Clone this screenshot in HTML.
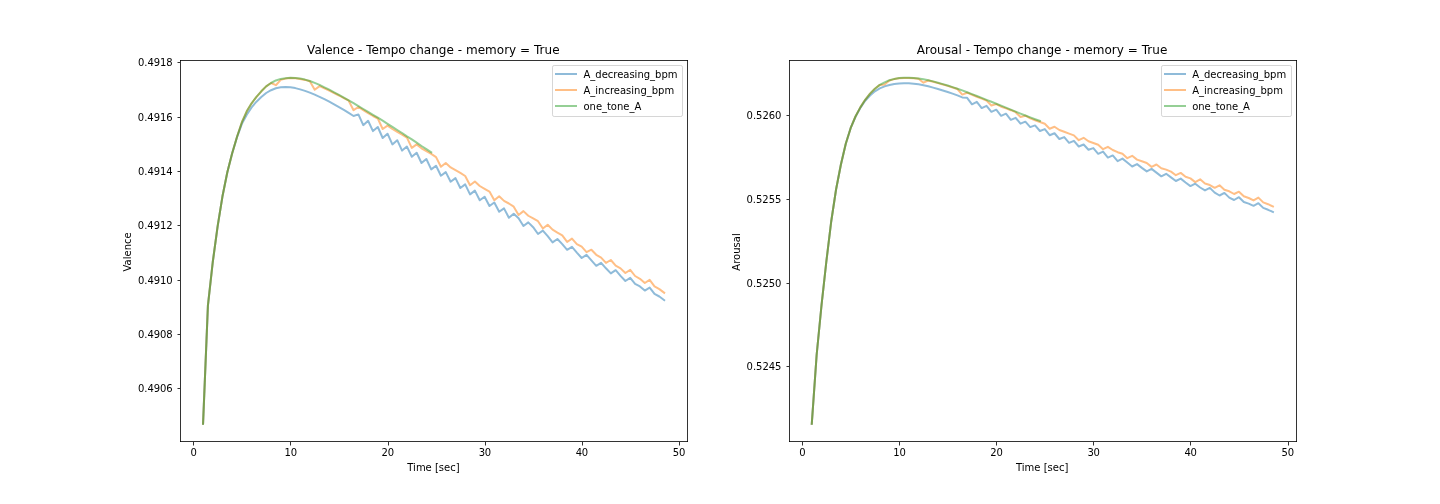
<!DOCTYPE html>
<html lang="en">
<head>
<meta charset="utf-8">
<title>Valence / Arousal - Tempo change - memory = True</title>
<style>
html,body{margin:0;padding:0;background:#fff;}
body{width:1440px;height:504px;overflow:hidden;}
svg{display:block;will-change:transform;}
svg text{font-family:"DejaVu Sans","Liberation Sans",sans-serif;fill:#000;}
.curve{fill:none;stroke-width:2;stroke-opacity:0.5;stroke-linejoin:round;stroke-linecap:square;}
.ax{fill:#000;fill-opacity:0.8;shape-rendering:crispEdges;}
</style>
</head>
<body>
<svg width="1440" height="504" viewBox="0 0 1440 504">
<rect width="1440" height="504" fill="#ffffff"/>
<g id="axes1">
<clipPath id="clip0"><rect x="180" y="60.48" width="507.27" height="380.52"/></clipPath>
<g clip-path="url(#clip0)">
<polyline class="curve" stroke="#1f77b4" points="203.06,423.7 207.91,305.7 212.77,262 217.62,226.3 222.47,196.3 227.33,172.3 232.18,153.2 237.04,137.1 241.89,123.9 246.75,114.7 251.6,107.4 256.45,101.7 261.31,97.1 266.16,93 271.02,90.2 275.87,88.25 280.73,87.35 285.58,87.1 290.43,87.35 295.29,88.1 300.14,89.35 305,90.85 309.85,92.6 314.71,94.7 319.56,96.8 324.41,99.2 329.27,101.7 334.12,104.4 338.98,107.1 343.83,109.9 348.69,112.9 353.54,116 358.39,114.4 363.25,125.2 368.1,120.8 372.96,131.1 377.81,127 382.67,138 387.52,133.7 392.37,144.4 397.23,140.2 402.08,150.6 406.94,146.6 411.79,156.8 416.65,152.7 421.5,163 426.35,159 431.21,169.4 436.06,165.8 440.92,175.7 445.77,172.1 450.63,181.7 455.48,178.1 460.33,188 465.19,184.4 470.04,194.4 474.9,190.6 479.75,200.3 484.61,196.7 489.46,206 494.31,202.5 499.17,211.8 504.02,208.4 508.88,217.8 513.73,213.8 518.59,218.2 523.44,226 528.29,222.4 533.15,227.2 538,234 542.86,230.6 547.71,236.2 552.57,242.4 557.42,239 562.27,244.1 567.13,249.8 571.98,246.9 576.84,252.6 581.69,258 586.55,254.8 591.4,260.4 596.25,265.8 601.11,262.8 605.96,268.3 610.82,273.4 615.67,270.2 620.53,275.9 625.38,281 630.23,277.9 635.09,283.8 639.94,286.4 644.8,290.6 649.65,287.6 654.51,293.9 659.36,296.5 664.21,300.1"/>
<polyline class="curve" stroke="#ff7f0e" points="203.06,423.7 207.91,305.7 212.77,262 217.62,226.3 222.47,196.3 227.33,172.3 232.18,153.2 237.04,136.8 241.89,122.2 246.75,111.3 251.6,103.3 256.45,96.8 261.31,91.3 266.16,86.4 271.02,83 275.87,85.2 280.73,79.9 285.58,78.6 290.43,78.1 295.29,78.3 300.14,78.9 305,79.9 309.85,81.2 314.71,89.7 319.56,86.1 324.41,88.3 329.27,90.6 334.12,93.1 338.98,95.5 343.83,98.2 348.69,100.7 353.54,110.2 358.39,107 363.25,110.2 368.1,113.2 372.96,116 377.81,118.5 382.67,129 387.52,125.6 392.37,129 397.23,131.8 402.08,134.6 406.94,137.6 411.79,147.9 416.65,144.4 421.5,148.3 426.35,151.1 431.21,153.9 436.06,157.1 440.92,166.8 445.77,163 450.63,167.4 455.48,170.2 460.33,172.9 465.19,176 470.04,185.2 474.9,181.5 479.75,186 484.61,188.8 489.46,191.6 494.31,200.25 499.17,196.25 504.02,200.9 508.88,203.5 513.73,206.7 518.59,215 523.44,211.1 528.29,215.75 533.15,218.45 538,221.2 542.86,228.45 547.71,224.75 552.57,229.65 557.42,232.6 562.27,235.4 567.13,241.95 571.98,238.6 576.84,244.05 581.69,246.7 586.55,252.1 591.4,249.7 596.25,254.8 601.11,257.6 605.96,262.9 610.82,260 615.67,265.7 620.53,268.35 625.38,273 630.23,269.85 635.09,276 639.94,278.8 644.8,283 649.65,279.9 654.51,286.4 659.36,289.1 664.21,292.8"/>
<polyline class="curve" stroke="#2ca02c" points="203.06,423.7 207.91,305.7 212.77,262 217.62,226.3 222.47,196.3 227.33,172.3 232.18,153.2 237.04,136.8 241.89,122.2 246.75,111.3 251.6,103.3 256.45,96.8 261.31,91.3 266.16,86.4 271.02,83 275.87,80.45 280.73,78.9 285.58,78.2 290.43,77.8 295.29,78 300.14,78.6 305,79.6 309.85,81 314.71,82.9 319.56,84.9 324.41,87.3 329.27,89.7 334.12,92.3 338.98,94.8 343.83,97.6 348.69,100.3 353.54,103.1 358.39,106.1 363.25,109 368.1,111.9 372.96,114.8 377.81,117.7 382.67,120.7 387.52,123.8 392.37,126.9 397.23,130 402.08,133 406.94,136.3 411.79,139.4 416.65,142.7 421.5,146 426.35,149.1 431.21,152.3"/>
</g>
<rect class="ax" x="180" y="60" width="1" height="382"/>
<rect class="ax" x="687" y="60" width="1" height="382"/>
<rect class="ax" x="180" y="60" width="508" height="1"/>
<rect class="ax" x="180" y="441" width="508" height="1"/>
<rect class="ax" x="193" y="442" width="1" height="3.5" style="shape-rendering:auto"/>
<rect class="ax" x="290" y="442" width="1" height="3.5" style="shape-rendering:auto"/>
<rect class="ax" x="388" y="442" width="1" height="3.5" style="shape-rendering:auto"/>
<rect class="ax" x="485" y="442" width="1" height="3.5" style="shape-rendering:auto"/>
<rect class="ax" x="582" y="442" width="1" height="3.5" style="shape-rendering:auto"/>
<rect class="ax" x="679" y="442" width="1" height="3.5" style="shape-rendering:auto"/>
<rect class="ax" x="177.5" y="388" width="2.5" height="1" style="shape-rendering:auto"/>
<rect class="ax" x="177.5" y="334" width="2.5" height="1" style="shape-rendering:auto"/>
<rect class="ax" x="177.5" y="280" width="2.5" height="1" style="shape-rendering:auto"/>
<rect class="ax" x="177.5" y="225" width="2.5" height="1" style="shape-rendering:auto"/>
<rect class="ax" x="177.5" y="171" width="2.5" height="1" style="shape-rendering:auto"/>
<rect class="ax" x="177.5" y="117" width="2.5" height="1" style="shape-rendering:auto"/>
<rect class="ax" x="177.5" y="62" width="2.5" height="1" style="shape-rendering:auto"/>
<text font-size="12px" textLength="252.5" x="307.09" y="54.48">Valence - Tempo change - memory = True</text>
<text font-size="10px" textLength="52.25" x="407.31" y="471.09">Time [sec]</text>
<text font-size="10px" textLength="39.25" transform="translate(131.03,271.56) rotate(-90)">Valence</text>
<text font-size="10px" textLength="6.25" x="190.52" y="456">0</text>
<text font-size="10px" textLength="12.62" x="284.42" y="456">10</text>
<text font-size="10px" textLength="12.62" x="381.51" y="456">20</text>
<text font-size="10px" textLength="12.5" x="478.66" y="456">30</text>
<text font-size="10px" textLength="12.5" x="575.74" y="456">40</text>
<text font-size="10px" textLength="12.62" x="672.77" y="456">50</text>
<text font-size="10px" textLength="34.75" x="137.95" y="392.3">0.4906</text>
<text font-size="10px" textLength="34.62" x="138.07" y="337.97">0.4908</text>
<text font-size="10px" textLength="34.75" x="137.95" y="283.63">0.4910</text>
<text font-size="10px" textLength="34.88" x="137.82" y="229.3">0.4912</text>
<text font-size="10px" textLength="34.75" x="137.95" y="174.97">0.4914</text>
<text font-size="10px" textLength="34.88" x="137.82" y="120.63">0.4916</text>
<text font-size="10px" textLength="34.75" x="137.95" y="66.3">0.4918</text>
<rect x="552.5" y="65.5" width="130" height="51" rx="1.7" ry="1.7" fill="#ffffff" fill-opacity="0.8" stroke="#cccccc" stroke-opacity="0.8" stroke-width="1"/>
<line class="curve" stroke="#1f77b4" x1="556" y1="74" x2="576" y2="74"/>
<line class="curve" stroke="#ff7f0e" x1="556" y1="90" x2="576" y2="90"/>
<line class="curve" stroke="#2ca02c" x1="556" y1="106" x2="576" y2="106"/>
<text font-size="10px" textLength="94" x="583.47" y="78.48">A_decreasing_bpm</text>
<text font-size="10px" textLength="90.75" x="583.47" y="94.39">A_increasing_bpm</text>
<text font-size="10px" textLength="57.75" x="583.47" y="110.29">one_tone_A</text>
</g>
<g id="axes2">
<clipPath id="clip1"><rect x="788.73" y="60.48" width="507.27" height="380.52"/></clipPath>
<g clip-path="url(#clip1)">
<polyline class="curve" stroke="#1f77b4" points="811.79,423.7 816.64,355 821.49,305.5 826.35,261.5 831.2,221.5 836.06,189.5 840.91,164.5 845.77,143.8 850.62,128.2 855.47,116.8 860.33,108 865.18,100.8 870.04,95.5 874.89,91.3 879.75,88.4 884.6,86.4 889.45,85 894.31,84 899.16,83.4 904.02,83.2 908.87,83.3 913.73,83.7 918.58,84.3 923.43,85.2 928.29,86.3 933.14,87.6 938,89 942.85,90.5 947.71,92 952.56,93.65 957.41,95.4 962.27,97.4 967.12,97.8 971.98,104.3 976.83,101.8 981.69,108.1 986.54,105.8 991.39,111.8 996.25,109.7 1001.1,115.8 1005.96,113.65 1010.81,119.8 1015.67,117.8 1020.52,123.7 1025.37,121.7 1030.23,127.1 1035.08,125.4 1039.94,131 1044.79,129.1 1049.65,135.2 1054.5,133.25 1059.35,139 1064.21,137.1 1069.06,142.8 1073.92,140.8 1078.77,146.5 1083.63,144.5 1088.48,149.7 1093.33,148.1 1098.19,153.8 1103.04,151.6 1107.9,157.6 1112.75,155.4 1117.61,161.1 1122.46,158.6 1127.31,162.5 1132.17,166.5 1137.02,164.1 1141.88,167.9 1146.73,171.4 1151.59,168.9 1156.44,172.6 1161.29,176.35 1166.15,173.8 1171,177.4 1175.86,181 1180.71,178.6 1185.57,182.5 1190.42,186.1 1195.27,183.7 1200.13,187.5 1204.98,190.4 1209.84,187.9 1214.69,192.6 1219.55,195.5 1224.4,192.9 1229.25,197.6 1234.11,200 1238.96,197.2 1243.82,202 1248.67,203.6 1253.53,205.8 1258.38,203.2 1263.23,207.9 1268.09,209.8 1272.94,211.9"/>
<polyline class="curve" stroke="#ff7f0e" points="811.79,423.7 816.64,355 821.49,305.5 826.35,261.5 831.2,221.5 836.06,189.5 840.91,164.5 845.77,143.8 850.62,128.2 855.47,116.5 860.33,107.4 865.18,99.8 870.04,93.6 874.89,88.7 879.75,84.9 884.6,84.6 889.45,80.5 894.31,79.1 899.16,78.3 904.02,78 908.87,78 913.73,78.2 918.58,78.7 923.43,82.7 928.29,80.5 933.14,81.8 938,83.1 942.85,84.5 947.71,85.9 952.56,87.5 957.41,89 962.27,94.6 967.12,92.7 971.98,94.8 976.83,96.7 981.69,98.6 986.54,100.6 991.39,105.5 996.25,104.1 1001.1,106.7 1005.96,108.4 1010.81,110.2 1015.67,112.2 1020.52,117 1025.37,115.7 1030.23,118.4 1035.08,120.2 1039.94,122 1044.79,123.7 1049.65,128.7 1054.5,126.75 1059.35,130 1064.21,131.8 1069.06,133.65 1073.92,135.4 1078.77,140.2 1083.63,137.8 1088.48,141.3 1093.33,143 1098.19,144.8 1103.04,149.15 1107.9,146.8 1112.75,150 1117.61,152.2 1122.46,153.8 1127.31,158.2 1132.17,155.8 1137.02,159.65 1141.88,161.3 1146.73,163 1151.59,166.9 1156.44,164.5 1161.29,168.25 1166.15,169.6 1171,171.6 1175.86,175.2 1180.71,172.9 1185.57,176.8 1190.42,178.4 1195.27,182.1 1200.13,179.3 1204.98,183.45 1209.84,185.05 1214.69,187.8 1219.55,185.3 1224.4,189.7 1229.25,191.3 1234.11,194 1238.96,191.7 1243.82,196.3 1248.67,198 1253.53,200.4 1258.38,197.6 1263.23,202.4 1268.09,204.2 1272.94,206.5"/>
<polyline class="curve" stroke="#2ca02c" points="811.79,423.7 816.64,355 821.49,305.5 826.35,261.5 831.2,221.5 836.06,189.5 840.91,164.5 845.77,143.8 850.62,128.2 855.47,116.5 860.33,107.4 865.18,99.8 870.04,93.6 874.89,88.7 879.75,84.9 884.6,82.3 889.45,80.2 894.31,78.9 899.16,78.1 904.02,77.8 908.87,77.8 913.73,78 918.58,78.5 923.43,79.2 928.29,80.2 933.14,81.4 938,82.7 942.85,84.1 947.71,85.5 952.56,87.1 957.41,88.7 962.27,90.4 967.12,92.2 971.98,94.1 976.83,96 981.69,97.9 986.54,99.85 991.39,101.8 996.25,103.7 1001.1,105.7 1005.96,107.6 1010.81,109.6 1015.67,111.6 1020.52,113.6 1025.37,115.5 1030.23,117.4 1035.08,119.2 1039.94,120.9"/>
</g>
<rect class="ax" x="789" y="60" width="1" height="382"/>
<rect class="ax" x="1296" y="60" width="1" height="382"/>
<rect class="ax" x="789" y="60" width="508" height="1"/>
<rect class="ax" x="789" y="441" width="508" height="1"/>
<rect class="ax" x="802" y="442" width="1" height="3.5" style="shape-rendering:auto"/>
<rect class="ax" x="899" y="442" width="1" height="3.5" style="shape-rendering:auto"/>
<rect class="ax" x="996" y="442" width="1" height="3.5" style="shape-rendering:auto"/>
<rect class="ax" x="1093" y="442" width="1" height="3.5" style="shape-rendering:auto"/>
<rect class="ax" x="1190" y="442" width="1" height="3.5" style="shape-rendering:auto"/>
<rect class="ax" x="1288" y="442" width="1" height="3.5" style="shape-rendering:auto"/>
<rect class="ax" x="786.5" y="366" width="2.5" height="1" style="shape-rendering:auto"/>
<rect class="ax" x="786.5" y="283" width="2.5" height="1" style="shape-rendering:auto"/>
<rect class="ax" x="786.5" y="199" width="2.5" height="1" style="shape-rendering:auto"/>
<rect class="ax" x="786.5" y="115" width="2.5" height="1" style="shape-rendering:auto"/>
<text font-size="12px" textLength="250.5" x="916.81" y="54.48">Arousal - Tempo change - memory = True</text>
<text font-size="10px" textLength="52.25" x="1016.04" y="471.09">Time [sec]</text>
<text font-size="10px" textLength="37.38" transform="translate(739.63,270.63) rotate(-90)">Arousal</text>
<text font-size="10px" textLength="6.25" x="799.25" y="456">0</text>
<text font-size="10px" textLength="12.62" x="893.15" y="456">10</text>
<text font-size="10px" textLength="12.62" x="990.24" y="456">20</text>
<text font-size="10px" textLength="12.5" x="1087.38" y="456">30</text>
<text font-size="10px" textLength="12.5" x="1184.47" y="456">40</text>
<text font-size="10px" textLength="12.62" x="1281.49" y="456">50</text>
<text font-size="10px" textLength="34.88" x="746.55" y="370.3">0.5245</text>
<text font-size="10px" textLength="34.88" x="746.55" y="286.63">0.5250</text>
<text font-size="10px" textLength="35" x="746.43" y="202.97">0.5255</text>
<text font-size="10px" textLength="34.88" x="746.55" y="119.3">0.5260</text>
<rect x="1161.5" y="65.5" width="130" height="51" rx="1.7" ry="1.7" fill="#ffffff" fill-opacity="0.8" stroke="#cccccc" stroke-opacity="0.8" stroke-width="1"/>
<line class="curve" stroke="#1f77b4" x1="1165" y1="74" x2="1185" y2="74"/>
<line class="curve" stroke="#ff7f0e" x1="1165" y1="90" x2="1185" y2="90"/>
<line class="curve" stroke="#2ca02c" x1="1165" y1="106" x2="1185" y2="106"/>
<text font-size="10px" textLength="94" x="1192.2" y="78.48">A_decreasing_bpm</text>
<text font-size="10px" textLength="90.75" x="1192.2" y="94.39">A_increasing_bpm</text>
<text font-size="10px" textLength="57.75" x="1192.2" y="110.29">one_tone_A</text>
</g>
</svg>
</body>
</html>
